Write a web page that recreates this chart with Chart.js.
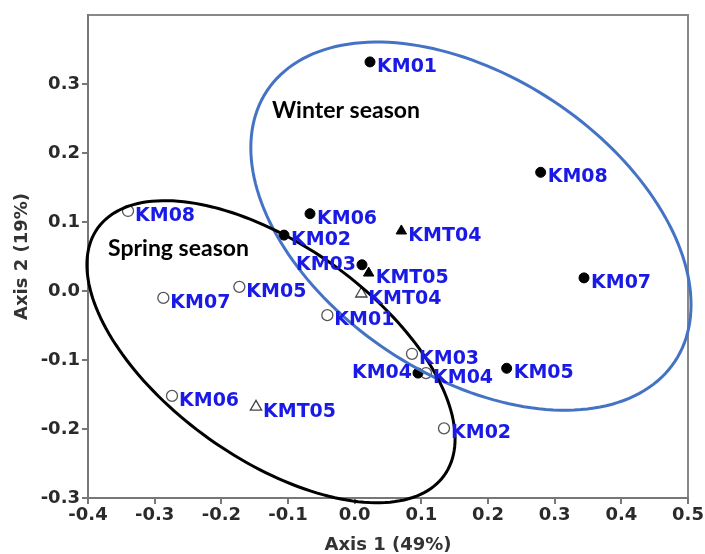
<!DOCTYPE html>
<html lang="en">
 <head>
  <meta charset="utf-8"/>
  <title>Axis 1 / Axis 2 ordination</title>
  <script src="https://cdn.jsdelivr.net/npm/chart.js"></script>
  <style>
   body { margin: 0; background: #fff; }
   canvas { display: block; }
  </style>
 </head>
 <body>
  <canvas id="chart" width="705" height="554"></canvas>
  <script>
    // winter samples (filled markers)
    const winterNames = ['KM01', 'KM08', 'KM07', 'KM05', 'KM04', 'KM06', 'KM02', 'KM03'];
    const winterX = [0.023, 0.279, 0.344, 0.228, 0.095, -0.067, -0.106, 0.011];
    const winterY = [0.332, 0.172, 0.019, -0.112, -0.119, 0.112, 0.081, 0.038];
    const winterTriNames = ['KMT04', 'KMT05'];
    const winterTriX = [0.070, 0.021];
    const winterTriY = [0.087, 0.026];

    // spring samples (open markers)
    const springNames = ['KM08', 'KM07', 'KM05', 'KM01', 'KM03', 'KM04', 'KM06', 'KM02'];
    const springX = [-0.340, -0.287, -0.173, -0.041, 0.086, 0.107, -0.274, 0.134];
    const springY = [0.116, -0.010, 0.006, -0.035, -0.091, -0.119, -0.152, -0.199];
    const springTriNames = ['KMT05', 'KMT04'];
    const springTriX = [-0.148, 0.010];
    const springTriY = [-0.168, -0.004];

    const xTicks = [-0.4, -0.3, -0.2, -0.1, 0.0, 0.1, 0.2, 0.3, 0.4, 0.5];
    const yTicks = [-0.3, -0.2, -0.1, 0.0, 0.1, 0.2, 0.3];

    // ellipses: centre + two conjugate half-axis vectors, in axis units
    const winterEllipse = { cx: 0.1744, cy: 0.094, ax: 0.306, ay: -0.196, bx: -0.124, by: -0.181 };
    const springEllipse = { cx: -0.1255, cy: -0.088, ax: 0.260, ay: -0.179, bx: -0.093, by: -0.126 };

    const groupNotes = [
      { text: 'Winter season', x: -0.124, y: 0.262 },
      { text: 'Spring season', x: -0.370, y: 0.062 }
    ];

    const toPoints = (xs, ys, names) => xs.map((x, i) => ({ x, y: ys[i], name: names[i] }));

    const frame = {
      id: 'frame',
      beforeDraw(chart) {
        const { ctx, chartArea: a } = chart;
        ctx.save();
        ctx.strokeStyle = '#888';
        ctx.lineWidth = 2;
        ctx.beginPath();
        ctx.moveTo(a.left, a.top);
        ctx.lineTo(a.right, a.top);
        ctx.lineTo(a.right, a.bottom);
        ctx.stroke();
        ctx.restore();
      }
    };

    function drawEllipse(chart, e, color) {
      const { ctx, scales: { x, y } } = chart;
      ctx.save();
      ctx.strokeStyle = color;
      ctx.lineWidth = 3;
      ctx.beginPath();
      for (let d = 0; d <= 360; d += 2) {
        const t = d * Math.PI / 180;
        const px = x.getPixelForValue(e.cx + e.ax * Math.cos(t) + e.bx * Math.sin(t));
        const py = y.getPixelForValue(e.cy + e.ay * Math.cos(t) + e.by * Math.sin(t));
        if (d === 0) ctx.moveTo(px, py); else ctx.lineTo(px, py);
      }
      ctx.closePath();
      ctx.stroke();
      ctx.restore();
    }

    const overlay = {
      id: 'overlay',
      afterDatasetsDraw(chart) {
        const { ctx, scales: { x, y } } = chart;
        drawEllipse(chart, winterEllipse, '#4472c4');
        drawEllipse(chart, springEllipse, '#000');

        ctx.save();
        ctx.font = 'bold 19px "DejaVu Sans"';
        ctx.fillStyle = '#1a1ae6';
        ctx.textBaseline = 'middle';
        chart.data.datasets.forEach((ds, di) => {
          const meta = chart.getDatasetMeta(di);
          meta.data.forEach((pt, i) => {
            const name = ds.data[i].name;
            // the two winter labels that sit to the left of their dot
            if (di === 0 && (name === 'KM04' || name === 'KM03')) {
              ctx.textAlign = 'right';
              ctx.fillText(name, pt.x - 6, pt.y);
            } else {
              ctx.textAlign = 'left';
              ctx.fillText(name, pt.x + 7, pt.y + 5);
            }
          });
        });

        ctx.font = 'bold 23px Lato';
        ctx.fillStyle = '#000';
        ctx.textAlign = 'left';
        groupNotes.forEach(n => {
          ctx.fillText(n.text, x.getPixelForValue(n.x), y.getPixelForValue(n.y));
        });
        ctx.restore();
      }
    };

    const tickFont = { family: '"DejaVu Sans"', size: 18, weight: 'bold' };
    const titleFont = { family: '"DejaVu Sans"', size: 18, weight: 'bold', lineHeight: 1 };

    new Chart(document.getElementById('chart'), {
      type: 'scatter',
      data: {
        datasets: [
          {
            data: toPoints(winterX, winterY, winterNames),
            pointStyle: 'circle', pointRadius: 5,
            backgroundColor: '#000', borderColor: '#000', borderWidth: 1
          },
          {
            data: toPoints(winterTriX, winterTriY, winterTriNames),
            pointStyle: 'triangle', pointRadius: 6,
            backgroundColor: '#000', borderColor: '#000', borderWidth: 1
          },
          {
            data: toPoints(springX, springY, springNames),
            pointStyle: 'circle', pointRadius: 5.5,
            backgroundColor: '#fff', borderColor: '#555', borderWidth: 1.3
          },
          {
            data: toPoints(springTriX, springTriY, springTriNames),
            pointStyle: 'triangle', pointRadius: 6.5,
            backgroundColor: '#fff', borderColor: '#444', borderWidth: 1.3
          }
        ]
      },
      options: {
        responsive: false,
        animation: false,
        layout: { padding: { left: 0, right: 17, top: 15, bottom: 0 } },
        plugins: { legend: { display: false }, tooltip: { enabled: false } },
        scales: {
          x: {
            type: 'linear', min: -0.4, max: 0.5,
            afterBuildTicks: s => { s.ticks = xTicks.map(v => ({ value: v })); },
            afterFit: s => { s.height = 56; },
            grid: { drawOnChartArea: false, drawTicks: true, tickLength: 6, color: '#777', lineWidth: 2 },
            border: { color: '#777', width: 2 },
            ticks: { color: '#2a2a2a', font: tickFont, padding: 1, maxRotation: 0, callback: v => v.toFixed(1) },
            title: { display: true, text: 'Axis 1 (49%)', color: '#333', font: titleFont, padding: 0 }
          },
          y: {
            type: 'linear', min: -0.3, max: 0.4,
            afterBuildTicks: s => { s.ticks = yTicks.map(v => ({ value: v })); },
            afterFit: s => { s.width = 88; },
            grid: { drawOnChartArea: false, drawTicks: true, tickLength: 6, color: '#777', lineWidth: 2 },
            border: { color: '#777', width: 2 },
            ticks: { color: '#2a2a2a', font: tickFont, padding: 2, callback: v => v.toFixed(1) },
            title: { display: true, text: 'Axis 2 (19%)', color: '#333', font: titleFont, padding: { top: 13, bottom: 0 } }
          }
        }
      },
      plugins: [frame, overlay]
    });
  </script>
 </body>
</html>
